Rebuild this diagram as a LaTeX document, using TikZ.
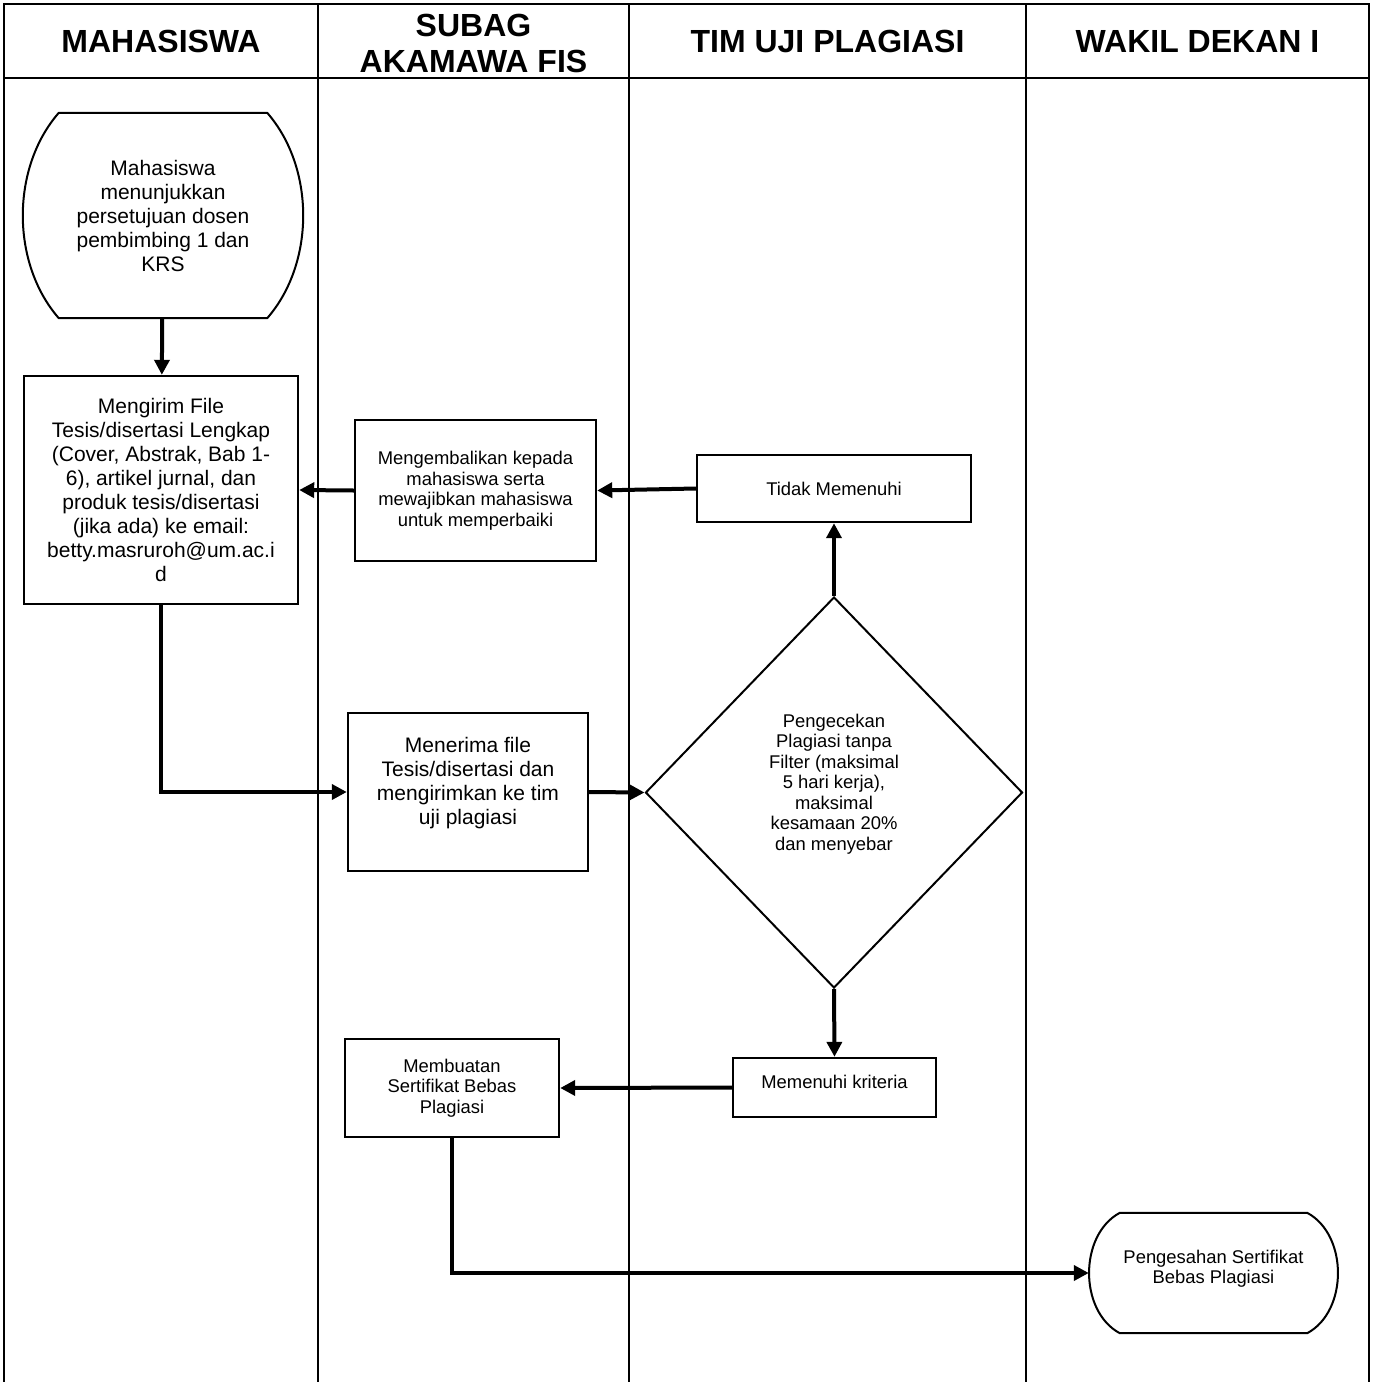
\documentclass[tikz,border=0pt]{standalone}
\usepackage{fontspec}
\setmainfont{Liberation Sans}
\usetikzlibrary{shapes.geometric,arrows.meta,calc}

\begin{document}
\begin{tikzpicture}[x=1pt,y=-1pt,
  frame/.style={line width=2.6pt},
  lane/.style={line width=2pt},
  head/.style={font=\fontsize{32}{36}\selectfont\bfseries,align=center},
  big/.style={font=\fontsize{21}{24}\selectfont,align=center},
  small/.style={font=\fontsize{18.4}{20.5}\selectfont,align=center},
  box/.style={draw,rectangle,line width=2.4pt,inner sep=0pt},
  term/.style={rectangle,inner sep=0pt},
  termline/.style={line width=2pt,line join=round},
  check/.style={draw,diamond,line width=2pt,inner sep=0pt},
  conn/.style={line width=4pt,-{Triangle[length=15pt,width=15pt]}}]
\useasboundingbox (0,0) rectangle (1374,1382);
\draw[frame] (4,1382) -- (4,4) -- (1369,4) -- (1369,1382);
\draw[frame] (4,78) -- (1369,78);
\foreach \x in {318,629,1026}
  \draw[lane] (\x,4) -- (\x,1382);

\node[head] (h1) at (161,41) {MAHASISWA};
\node[head] (h2) at (473.5,43) {SUBAG\\AKAMAWA FIS};
\node[head] (h3) at (827.5,41) {TIM UJI PLAGIASI};
\node[head] (h4) at (1197.5,41) {WAKIL DEKAN I};

\node[term,big,minimum width=280pt,minimum height=205pt] (m1) at (163,215.5)
  {Mahasiswa\\menunjukkan\\persetujuan dosen\\pembimbing 1 dan\\KRS};
\draw[termline] ($(m1.north west)+(36,0)$) -- ($(m1.north east)+(-36,0)$)
  .. controls ($(m1.north east)+(12,55)$) and ($(m1.south east)+(12,-55)$) .. ($(m1.south east)+(-36,0)$)
  -- ($(m1.south west)+(36,0)$)
  .. controls ($(m1.south west)+(-12,-55)$) and ($(m1.north west)+(-12,55)$) .. cycle;
\node[box,big,minimum width=274pt,minimum height=228pt] (m2) at (161,490)
  {Mengirim File\\Tesis/disertasi Lengkap\\(Cover, Abstrak, Bab 1-\\6), artikel jurnal, dan\\produk tesis/disertasi\\(jika ada) ke email:\\betty.masruroh@um.ac.i\\d};
\node[box,small,minimum width=241pt,minimum height=141pt] (s1) at (475.5,490.5)
  {Mengembalikan kepada\\mahasiswa serta\\mewajibkan mahasiswa\\untuk memperbaiki};
\node[box,big,minimum width=240pt,minimum height=158pt] (s2) at (468,792)
  {Menerima file\\Tesis/disertasi dan\\mengirimkan ke tim\\uji plagiasi\\[-2pt]};
\node[box,small,minimum width=214pt,minimum height=98pt] (s3) at (452,1088)
  {Membuatan\\Sertifikat Bebas\\Plagiasi};
\node[box,small,minimum width=274pt,minimum height=67pt] (t1) at (834,488.5)
  {Tidak Memenuhi};
\node[check,small,minimum width=377pt,minimum height=391pt] (t2) at (834,792.5)
  {Pengecekan\\Plagiasi tanpa\\Filter (maksimal\\5 hari kerja),\\maksimal\\kesamaan 20\%\\dan menyebar\\[0pt]};
\node[box,small,minimum width=203pt,minimum height=59pt] (t3) at (834.5,1087.5)
  {Memenuhi kriteria\\[-10pt]};
\node[term,small,minimum width=249pt,minimum height=120pt] (w1) at (1213.5,1273)
  {Pengesahan Sertifikat\\Bebas Plagiasi\\[-8pt]};
\draw[termline] ($(w1.north west)+(31,0)$) -- ($(w1.north east)+(-31,0)$)
  .. controls ($(w1.north east)+(10,22)$) and ($(w1.south east)+(10,-22)$) .. ($(w1.south east)+(-31,0)$)
  -- ($(w1.south west)+(31,0)$)
  .. controls ($(w1.south west)+(-10,-22)$) and ($(w1.north west)+(-10,22)$) .. cycle;

\draw[conn] (m1) -- (m2);
\draw[conn] (m2) |- (s2);
\draw[conn] (s2.east) -- (t2.west);
\draw[conn] (t2.north) -- (t1.south);
\draw[conn] (t1.west) -- (s1.east);
\draw[conn] (s1.west) -- (m2.east);
\draw[conn] (t2.south) -- (t3.north);
\draw[conn] (t3.west) -- (s3.east);
\draw[conn] (s3) |- (w1);
\end{tikzpicture}
\end{document}
